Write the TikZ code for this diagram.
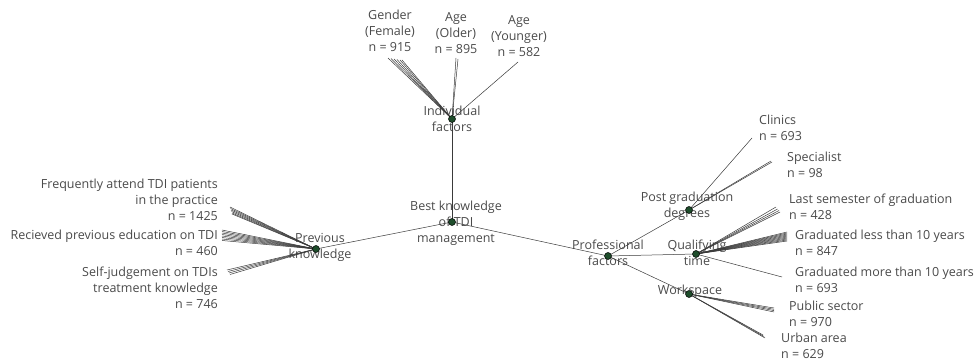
\documentclass[tikz,border=0pt]{standalone}
\usepackage{fontspec}
\setmainfont{Open Sans}
\definecolor{dotgreen}{HTML}{1E4D2B}
\definecolor{txtgray}{HTML}{4A4A4A}
\definecolor{linegray}{HTML}{3A3A3A}
\tikzset{
  tline/.style={draw=linegray, line width=0.5pt},
  dotnode/.style={circle, fill=dotgreen, draw=black, line width=0.5pt, inner sep=0pt, minimum size=7pt},
  lbl/.style={text=txtgray, font=\fontsize{12.5}{16}\selectfont, inner sep=0pt, align=center},
  lbll/.style={lbl, align=left, anchor=west},
  lblr/.style={lbl, align=right, anchor=east}
}
\begin{document}
\begin{tikzpicture}[x=1pt,y=-1pt]
\useasboundingbox (0,0) rectangle (978,363);
% internal labels
\node[lbl] (troot) at (456,223) {Best knowledge\\of TDI\\management};
\node[lbl] (tind) at (452,119) {Individual\\factors};
\node[lbl] (tprev) at (320,247) {Previous\\knowledge};
\node[lbl] (tprof) at (608,253) {Professional\\factors};
\node[lbl] (tpost) at (687,206) {Post graduation\\degrees};
\node[lbl] (tqual) at (697,253) {Qualifying\\time};
\node[lbl] (twork) at (690,291) {Workspace};
% leaf labels
\node[lbl] (lgen) at (390,31) {Gender\\(Female)\\n = 915};
\node[lbl] (lold) at (456,33) {Age\\(Older)\\n = 895};
\node[lbl] (lyoung) at (519,36) {Age\\(Younger)\\n = 582};
\node[lblr] (lfreq) at (218,200) {Frequently attend TDI patients\\in the practice\\n = 1425};
\node[lblr] (lrec) at (218,243) {Recieved previous education on TDI\\n = 460};
\node[lblr] (lself) at (218,288) {Self-judgement on TDIs\\treatment knowledge\\n = 746};
\node[lbll] (lclin) at (759,128) {Clinics\\n = 693};
\node[lbll] (lspec) at (787,165) {Specialist\\n = 98};
\node[lbll] (llast) at (789,207) {Last semester of graduation\\n = 428};
\node[lbll] (lless) at (795,243) {Graduated less than 10 years\\n = 847};
\node[lbll] (lmore) at (795,280) {Graduated more than 10 years\\n = 693};
\node[lbll] (lpub) at (789,314) {Public sector\\n = 970};
\node[lbll] (lurb) at (781,346) {Urban area\\n = 629};
% internal nodes (positions)
\coordinate (root) at (452,222);
\coordinate (ind) at (452,119);
\coordinate (prev) at (316,249);
\coordinate (prof) at (608,256);
\coordinate (post) at (689,210);
\coordinate (qual) at (696,254);
\coordinate (work) at (689,294);
% main branches
\draw[tline] (root) -- (ind);
\draw[tline] (root) -- (prev);
\draw[tline] (root) -- (prof);
\draw[tline] (prof) -- (post);
\draw[tline] (prof) -- (qual);
\draw[tline] (prof) -- (work);
% individual factors leaves
\foreach \i/\x/\y in {1/388/58,2/391/58.5,3/394/59,4/397/59.5,5/400/60,6/402/60}{
  \coordinate (gen\i) at (\x,\y);
  \draw[tline] (ind) -- (gen\i);
}
\foreach \i/\x/\y in {1/456/58,2/458/59}{
  \coordinate (old\i) at (\x,\y);
  \draw[tline] (ind) -- (old\i);
}
\coordinate (young1) at (518,62);
\draw[tline] (ind) -- (young1);
% previous knowledge leaves
\foreach \i/\x/\y in {1/230/207,2/230.5/208.5,3/231/210,4/231.5/211.5,5/232/213,6/232/214}{
  \coordinate (freq\i) at (\x,\y);
  \draw[tline] (prev) -- (freq\i);
}
\foreach \i/\y in {1/230,2/231.5,3/233,4/234.5,5/236,6/237.5,7/239,8/240.5}{
  \coordinate (rec\i) at (222,\y);
  \draw[tline] (prev) -- (rec\i);
}
\foreach \i/\x/\y in {1/227/270,2/228/271.5,3/229/273,4/230/274.5}{
  \coordinate (self\i) at (\x,\y);
  \draw[tline] (prev) -- (self\i);
}
% post graduation leaves
\coordinate (clin1) at (752,138);
\draw[tline] (post) -- (clin1);
\foreach \i/\x/\y in {1/771/161,2/772/162}{
  \coordinate (spec\i) at (\x,\y);
  \draw[tline] (post) -- (spec\i);
}
% qualifying time leaves
\foreach \i/\x/\y in {1/776/207,2/777.5/209,3/779/210.5,4/780/212}{
  \coordinate (last\i) at (\x,\y);
  \draw[tline] (qual) -- (last\i);
}
\foreach \i/\y in {1/232,2/233,3/234,4/235,5/236,6/237,7/238,8/239,9/240,10/241}{
  \coordinate (less\i) at (787,\y);
  \draw[tline] (qual) -- (less\i);
}
\coordinate (more1) at (782,277);
\draw[tline] (qual) -- (more1);
% workspace leaves
\foreach \i/\y in {1/308,2/309.3,3/310.6,4/312}{
  \coordinate (pub\i) at (774,\y);
  \draw[tline] (work) -- (pub\i);
}
\foreach \i/\x/\y in {1/763/335,2/764/336.5,3/765/338}{
  \coordinate (urb\i) at (\x,\y);
  \draw[tline] (work) -- (urb\i);
}
% dots
\foreach \n in {root,ind,prev,prof,post,qual,work}{
  \node[dotnode] (d\n) at (\n) {};
}
\end{tikzpicture}
\end{document}
